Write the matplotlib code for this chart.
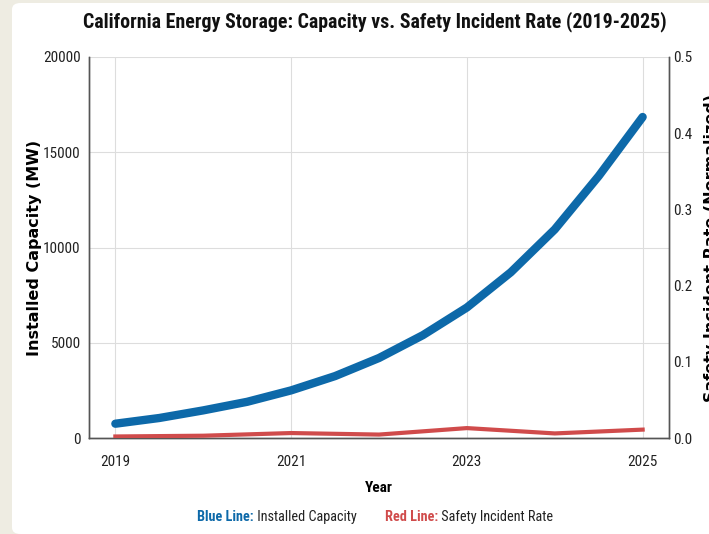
import matplotlib
matplotlib.use("Agg")
import matplotlib.pyplot as plt
from matplotlib import font_manager
from matplotlib.patches import FancyBboxPatch

# capacity every half year
cap_years = [2019, 2019.5, 2020, 2020.5, 2021, 2021.5, 2022, 2022.5,
             2023, 2023.5, 2024, 2024.5, 2025]
capacity_mw = [750, 1050, 1450, 1900, 2500, 3250, 4200, 5400,
               6850, 8700, 10950, 13750, 16850]
rate_years = [2019, 2020, 2021, 2022, 2023, 2024, 2025]
incident_rate = [0.002, 0.003, 0.0065, 0.0045, 0.013, 0.006, 0.011]
xticks = [2019, 2021, 2023, 2025]

names = {f.name for f in font_manager.fontManager.ttflist}
narrow = "DejaVu Sans"
for cand in ["Roboto Condensed", "Liberation Sans Narrow", "Open Sans Condensed"]:
    if cand in names:
        narrow = cand
        break
wide = "DejaVu Sans"

blue = "#0d69a9"
red = "#d04b4b"

fig = plt.figure(figsize=(7.09, 5.34), dpi=100, facecolor="#eeece2")
bg = FancyBboxPatch((12 / 709, 0), 1.2, 1 - 3 / 534, transform=fig.transFigure,
                    boxstyle="round,pad=0,rounding_size=0.012", facecolor="white",
                    edgecolor="none", zorder=-10)
fig.patches.append(bg)

ax = fig.add_axes([89 / 709, 1 - 438 / 534, (669 - 89) / 709, (438 - 57) / 534])
ax.set_facecolor("white")
ax.plot(cap_years, capacity_mw, color=blue, lw=6, solid_capstyle="round",
        solid_joinstyle="round", zorder=3)
ax.set_ylim(0, 20000)
ax.set_yticks([0, 5000, 10000, 15000, 20000])
ax.set_xticks(xticks)
ax.set_xticklabels([str(y) for y in xticks])
ax.grid(True, color="#dddddd", lw=0.8)
ax.set_axisbelow(True)

ax2 = ax.twinx()
ax2.plot(rate_years, incident_rate, color=red, lw=3, solid_joinstyle="round", zorder=3)
ax2.set_ylim(0, 0.5)
ax2.set_yticks([0.0, 0.1, 0.2, 0.3, 0.4, 0.5])
ax2.set_yticklabels(["0.0", "0.1", "0.2", "0.3", "0.4", "0.5"])

for a in (ax, ax2):
    a.spines["top"].set_visible(False)
    for s in ("left", "right", "bottom"):
        a.spines[s].set_color("#555555")
        a.spines[s].set_linewidth(1.0)
    a.tick_params(length=0, labelsize=11, colors="#222222", pad=6)
    for lab in a.get_xticklabels() + a.get_yticklabels():
        lab.set_fontfamily(narrow)
ax.tick_params(axis="x", pad=12)
ax2.tick_params(axis="y", pad=3)

ax.set_ylabel("Installed Capacity (MW)", fontsize=11.5, fontweight="bold",
              fontfamily=wide, labelpad=1)
# the right label runs off the edge of the picture, as in the original
ax2.set_ylabel("Safety Incident Rate (Normalized)", fontsize=11.5, fontweight="bold",
               fontfamily=wide, labelpad=8.5)
ax.set_xlabel("Year", fontsize=11, fontweight="bold", fontfamily=narrow, labelpad=9)

fig.text(375 / 709, 1 - 22 / 534,
         "California Energy Storage: Capacity vs. Safety Incident Rate (2019-2025)",
         ha="center", va="center", fontsize=14.3, fontweight="bold", fontfamily=narrow,
         color="#111111")

# legend written as coloured text under the axis
y_leg = 1 - 517 / 534
parts = [("Blue Line:", blue, "bold", 0), (" Installed Capacity", "#222222", "normal", 0),
         ("Red Line:", red, "bold", 28), (" Safety Incident Rate", "#222222", "normal", 0)]
fig.canvas.draw()
renderer = fig.canvas.get_renderer()
texts = []
total = 0
for s, c, w, gap in parts:
    t = fig.text(0, y_leg, s, color=c, fontweight=w, fontsize=10.3, fontfamily=narrow,
                 va="center", ha="left")
    wpx = t.get_window_extent(renderer).width
    texts.append((t, gap, wpx))
    total += gap + wpx
x0 = 375 - total / 2
for t, gap, wpx in texts:
    x0 += gap
    t.set_x(x0 / 709)
    x0 += wpx

fig.savefig("out.png", dpi=100, facecolor=fig.get_facecolor())
